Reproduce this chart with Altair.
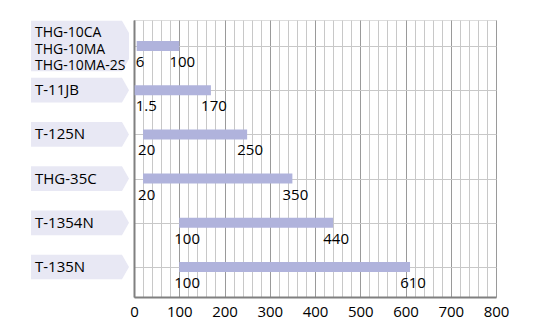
import altair as alt
import pandas as pd

models = ["THG-10CA\nTHG-10MA\nTHG-10MA-2S", "T-11JB", "T-125N", "THG-35C", "T-1354N", "T-135N"]
starts = [6, 1.5, 20, 20, 100, 100]
ends = [100, 170, 250, 350, 440, 610]
x_ticks = list(range(0, 801, 20))

df = pd.DataFrame({
    "row": list(range(len(models))),
    "model": models,
    "start": starts,
    "end": ends,
    "start_txt": [f"{v:g}" for v in starts],
    "end_txt": [f"{v:g}" for v in ends],
    "lines": [m.count("\n") + 1 for m in models],
})

FONT = "Open Sans"
BAR = "#b0b3dc"
BOX = "#e8e8f4"

x_scale = alt.Scale(domain=[0, 800], nice=False, zero=True)
y_scale = alt.Scale(domain=[-0.588, 5.679], reverse=True, nice=False, zero=False)

base = alt.Chart(df)

x_axis = alt.Axis(
    values=x_ticks,
    title=None,
    ticks=False,
    labelExpr="datum.value % 100 === 0 ? datum.label : ''",
    labelOverlap=False,
    labelFont=FONT, labelFontSize=15, labelColor="#000",
    labelBaseline="alphabetic", labelPadding=19,
    grid=True,
    gridColor={"condition": {"test": "datum.value % 100 === 0", "value": "#9a9a9a"}, "value": "#c8c8c8"},
    gridWidth=1,
    domainColor="#808080", domainWidth=2,
    labelFlush=False,
)
y_axis = alt.Axis(
    values=list(range(len(models))),
    title=None, labels=False, ticks=False,
    grid=True, gridColor="#c8c8c8", gridWidth=1,
    domainColor="#808080", domainWidth=2,
)

yy = alt.Y("row:Q", scale=y_scale, axis=y_axis)

bars = base.mark_rule(color=BAR, strokeWidth=10, strokeCap="butt").encode(
    x=alt.X("start:Q", scale=x_scale, axis=x_axis),
    x2="end:Q",
    y=yy,
)

single_shape = "M-1,-0.252L0.857,-0.252L1,0L0.857,0.252L-1,0.252Z"
multi_shape = "M-1,-0.517L0.857,-0.517L1,-0.265L1,0.265L0.857,0.517L-1,0.517Z"

box1 = base.transform_filter("datum.lines == 1").mark_point(
    shape=single_shape, filled=True, fill=BOX, strokeWidth=0, size=9604, opacity=1
).encode(x=alt.value(-54), y=yy)

box3 = base.transform_filter("datum.lines > 1").mark_point(
    shape=multi_shape, filled=True, fill=BOX, strokeWidth=0, size=9604, opacity=1
).encode(x=alt.value(-54), y=yy)

lab1 = base.transform_filter("datum.lines == 1").mark_text(
    font=FONT, fontSize=15, align="left", baseline="middle", color="#000"
).encode(x=alt.value(-99), y=yy, text="model:N")

lab3 = base.transform_filter("datum.lines > 1").mark_text(
    font=FONT, fontSize=14, align="left", baseline="middle", color="#000",
    lineBreak="\n", lineHeight=16.3, dy=-12.5
).encode(x=alt.value(-99), y=yy, text="model:N")

start_lab = base.transform_calculate(sx="max(datum.start, 15)").mark_text(
    font=FONT, fontSize=15, align="left", baseline="alphabetic", dx=-5, dy=21, color="#000"
).encode(x=alt.X("sx:Q", scale=x_scale, axis=x_axis), y=yy, text="start_txt:N")

end_lab = base.mark_text(
    font=FONT, fontSize=15, align="center", baseline="alphabetic", dx=3, dy=21, color="#000"
).encode(x=alt.X("end:Q", scale=x_scale, axis=x_axis), y=yy, text="end_txt:N")

chart = alt.layer(bars, box1, box3, lab1, lab3, start_lab, end_lab).properties(
    width=362, height=277,
    autosize=alt.AutoSizeParams(type="none"),
    padding={"left": 134, "top": 20, "right": 54, "bottom": 29},
).configure_view(stroke=None).configure(background="white")

chart.save("out.html", embed_options={"renderer": "svg", "actions": False})
